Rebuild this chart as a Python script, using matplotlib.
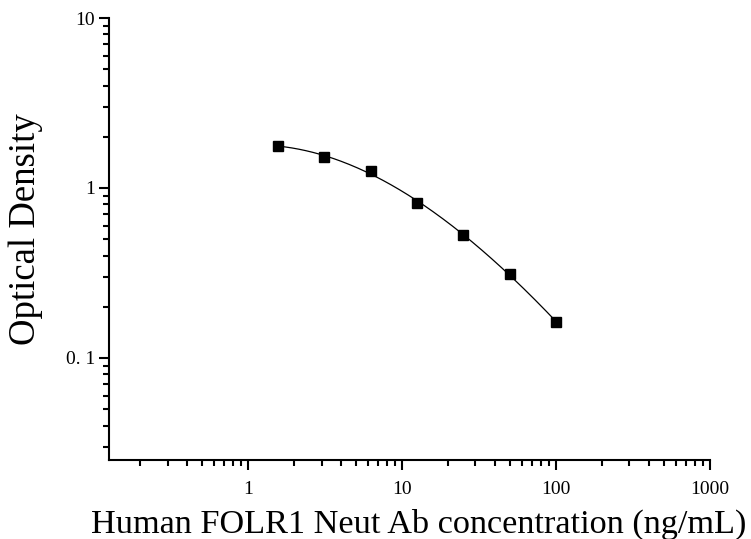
import numpy as np
import matplotlib
matplotlib.use('Agg')
import matplotlib.pyplot as plt
from matplotlib.ticker import LogLocator, FixedLocator, FixedFormatter, NullFormatter

conc = [1.5625, 3.125, 6.25, 12.5, 25, 50, 100]
od = [1.77, 1.52, 1.26, 0.816, 0.529, 0.312, 0.163]

x_ticks = [1, 10, 100, 1000]
x_labels = ['1', '10', '100', '1000']
y_ticks = [0.1, 1, 10]
y_labels = ['0. 1', '1', '10']

plt.rcParams['font.family'] = ['Liberation Serif', 'DejaVu Serif']

fig = plt.figure(figsize=(7.51, 5.39), dpi=100)
ax = fig.add_axes([0.1451, 0.1466, 0.8003, 0.82])

# smooth fit through the standards in log-log space
lx = np.log10(conc)
ly = np.log10(od)
coef = np.polyfit(lx, ly, 3)
xs = np.linspace(lx[0], lx[-1], 200)
ax.plot(10 ** xs, 10 ** np.polyval(coef, xs), color='black', lw=0.9)
ax.plot(conc, od, 's', color='black', markersize=7)

ax.set_xscale('log')
ax.set_yscale('log')
ax.set_xlim(0.125, 1000)
ax.set_ylim(0.0251, 10)

ax.xaxis.set_major_locator(FixedLocator(x_ticks))
ax.xaxis.set_major_formatter(FixedFormatter(x_labels))
ax.yaxis.set_major_locator(FixedLocator(y_ticks))
ax.yaxis.set_major_formatter(FixedFormatter(y_labels))
ax.xaxis.set_minor_locator(LogLocator(base=10, subs=np.arange(2, 10)))
ax.yaxis.set_minor_locator(LogLocator(base=10, subs=np.arange(2, 10)))
ax.xaxis.set_minor_formatter(NullFormatter())
ax.yaxis.set_minor_formatter(NullFormatter())

for s in ['top', 'right']:
    ax.spines[s].set_visible(False)
for s in ['left', 'bottom']:
    ax.spines[s].set_linewidth(1.5)

ax.tick_params(which='major', direction='out', length=7, width=1.5, labelsize=14)
ax.tick_params(axis='x', which='major', pad=8)
ax.tick_params(axis='y', which='major', pad=3)
ax.tick_params(which='minor', direction='out', length=4, width=1.5)

xl = ax.set_xlabel('Human FOLR1 Neut Ab concentration (ng/mL)', fontsize=24.7)
xl.set_va('baseline')
ax.xaxis.set_label_coords(0.515, -0.1655)
ax.set_ylabel('Optical Density', fontsize=26.5)
ax.yaxis.set_label_coords(-0.110, 0.522)

fig.savefig('out.png', dpi=100)
